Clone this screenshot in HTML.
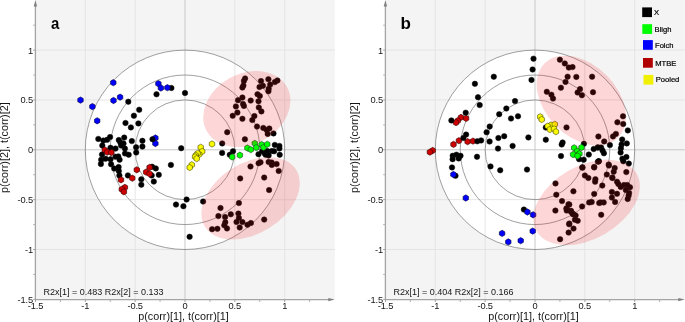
<!DOCTYPE html>
<html><head><meta charset="utf-8"><style>
html,body{margin:0;padding:0;background:#fff;width:685px;height:322px;overflow:hidden}
svg{display:block;will-change:transform}
text{font-family:"Liberation Sans",sans-serif;fill:#151515}
.tk{font-size:9.3px;letter-spacing:-0.15px}
.ti{font-size:10.8px}
.r2{font-size:9px}
.lb{font-size:17px;font-weight:bold;fill:#000}
.lg{font-size:7.6px;fill:#000;stroke:#000;stroke-width:0.2px}
</style></head><body>
<svg width="685" height="322" viewBox="0 0 685 322">
<defs>
<clipPath id="cca"><circle cx="185" cy="149.8" r="99.7"/></clipPath>
<clipPath id="ccb"><circle cx="535" cy="149.8" r="99.7"/></clipPath>
</defs>
<rect width="685" height="322" fill="#fff"/>
<rect x="36.0" y="0" width="298.8" height="299" fill="#f4f4f4"/>
<line x1="85.3" y1="0" x2="85.3" y2="299" stroke="#e4e4e4" stroke-width="1"/>
<line x1="36.0" y1="249.5" x2="334.8" y2="249.5" stroke="#e4e4e4" stroke-width="1"/>
<line x1="135.15" y1="0" x2="135.15" y2="299" stroke="#e4e4e4" stroke-width="1"/>
<line x1="36.0" y1="199.65" x2="334.8" y2="199.65" stroke="#e4e4e4" stroke-width="1"/>
<line x1="234.85" y1="0" x2="234.85" y2="299" stroke="#e4e4e4" stroke-width="1"/>
<line x1="36.0" y1="99.95000000000002" x2="334.8" y2="99.95000000000002" stroke="#e4e4e4" stroke-width="1"/>
<line x1="284.7" y1="0" x2="284.7" y2="299" stroke="#e4e4e4" stroke-width="1"/>
<line x1="36.0" y1="50.10000000000001" x2="334.8" y2="50.10000000000001" stroke="#e4e4e4" stroke-width="1"/>
<circle cx="185.0" cy="149.8" r="99.7" fill="#fff"/>
<line x1="85.3" y1="0" x2="85.3" y2="299" stroke="#e6e6e6" stroke-width="1" clip-path="url(#cca)"/>
<line x1="36.0" y1="249.5" x2="334.8" y2="249.5" stroke="#e6e6e6" stroke-width="1" clip-path="url(#cca)"/>
<line x1="135.15" y1="0" x2="135.15" y2="299" stroke="#e6e6e6" stroke-width="1" clip-path="url(#cca)"/>
<line x1="36.0" y1="199.65" x2="334.8" y2="199.65" stroke="#e6e6e6" stroke-width="1" clip-path="url(#cca)"/>
<line x1="234.85" y1="0" x2="234.85" y2="299" stroke="#e6e6e6" stroke-width="1" clip-path="url(#cca)"/>
<line x1="36.0" y1="99.95000000000002" x2="334.8" y2="99.95000000000002" stroke="#e6e6e6" stroke-width="1" clip-path="url(#cca)"/>
<line x1="284.7" y1="0" x2="284.7" y2="299" stroke="#e6e6e6" stroke-width="1" clip-path="url(#cca)"/>
<line x1="36.0" y1="50.10000000000001" x2="334.8" y2="50.10000000000001" stroke="#e6e6e6" stroke-width="1" clip-path="url(#cca)"/>
<line x1="185.0" y1="0" x2="185.0" y2="299" stroke="#c8c8c8" stroke-width="1"/>
<line x1="36.0" y1="149.8" x2="334.8" y2="149.8" stroke="#c8c8c8" stroke-width="1"/>
<circle cx="185.0" cy="149.8" r="49.85" fill="none" stroke="#777" stroke-width="0.7"/>
<circle cx="185.0" cy="149.8" r="74.775" fill="none" stroke="#777" stroke-width="0.7"/>
<circle cx="185.0" cy="149.8" r="99.7" fill="none" stroke="#777" stroke-width="0.7"/>
<polygon points="80.50,96.95 77.77,98.52 77.77,101.67 80.50,103.25 83.23,101.67 83.23,98.52" fill="#0000ff" stroke="#00003a" stroke-width="0.6" stroke-linejoin="round"/>
<polygon points="92.40,103.45 89.67,105.02 89.67,108.17 92.40,109.75 95.13,108.17 95.13,105.02" fill="#0000ff" stroke="#00003a" stroke-width="0.6" stroke-linejoin="round"/>
<polygon points="113.30,79.55 110.57,81.12 110.57,84.28 113.30,85.85 116.03,84.28 116.03,81.12" fill="#0000ff" stroke="#00003a" stroke-width="0.6" stroke-linejoin="round"/>
<polygon points="113.50,97.35 110.77,98.92 110.77,102.08 113.50,103.65 116.23,102.08 116.23,98.92" fill="#0000ff" stroke="#00003a" stroke-width="0.6" stroke-linejoin="round"/>
<polygon points="120.10,94.05 117.37,95.62 117.37,98.78 120.10,100.35 122.83,98.78 122.83,95.62" fill="#0000ff" stroke="#00003a" stroke-width="0.6" stroke-linejoin="round"/>
<polygon points="97.20,117.65 94.47,119.22 94.47,122.38 97.20,123.95 99.93,122.38 99.93,119.22" fill="#0000ff" stroke="#00003a" stroke-width="0.6" stroke-linejoin="round"/>
<circle cx="171.4" cy="88.0" r="2.75" fill="#000" stroke="#111" stroke-width="0.5"/>
<polygon points="158.40,80.55 155.67,82.12 155.67,85.28 158.40,86.85 161.13,85.28 161.13,82.12" fill="#0000ff" stroke="#00003a" stroke-width="0.6" stroke-linejoin="round"/>
<polygon points="160.90,84.85 158.17,86.42 158.17,89.58 160.90,91.15 163.63,89.58 163.63,86.42" fill="#0000ff" stroke="#00003a" stroke-width="0.6" stroke-linejoin="round"/>
<polygon points="167.40,84.55 164.67,86.12 164.67,89.28 167.40,90.85 170.13,89.28 170.13,86.12" fill="#0000ff" stroke="#00003a" stroke-width="0.6" stroke-linejoin="round"/>
<polygon points="155.40,134.85 152.67,136.43 152.67,139.57 155.40,141.15 158.13,139.57 158.13,136.43" fill="#0000ff" stroke="#00003a" stroke-width="0.6" stroke-linejoin="round"/>
<polygon points="155.40,140.35 152.67,141.93 152.67,145.07 155.40,146.65 158.13,145.07 158.13,141.93" fill="#0000ff" stroke="#00003a" stroke-width="0.6" stroke-linejoin="round"/>
<circle cx="156.5" cy="94.3" r="2.75" fill="#000" stroke="#111" stroke-width="0.5"/>
<circle cx="185.0" cy="93.0" r="2.75" fill="#000" stroke="#111" stroke-width="0.5"/>
<circle cx="128.3" cy="101.7" r="2.75" fill="#000" stroke="#111" stroke-width="0.5"/>
<circle cx="139.2" cy="109.8" r="2.75" fill="#000" stroke="#111" stroke-width="0.5"/>
<circle cx="133.9" cy="115.7" r="2.75" fill="#000" stroke="#111" stroke-width="0.5"/>
<circle cx="125.5" cy="123.0" r="2.75" fill="#000" stroke="#111" stroke-width="0.5"/>
<circle cx="130.9" cy="127.4" r="2.75" fill="#000" stroke="#111" stroke-width="0.5"/>
<circle cx="138.4" cy="123.4" r="2.75" fill="#000" stroke="#111" stroke-width="0.5"/>
<circle cx="152.5" cy="139.2" r="2.75" fill="#000" stroke="#111" stroke-width="0.5"/>
<circle cx="98.3" cy="138.9" r="2.75" fill="#000" stroke="#111" stroke-width="0.5"/>
<circle cx="103.3" cy="140.6" r="2.75" fill="#000" stroke="#111" stroke-width="0.5"/>
<circle cx="107.1" cy="139.8" r="2.75" fill="#000" stroke="#111" stroke-width="0.5"/>
<circle cx="110.1" cy="137.1" r="2.75" fill="#000" stroke="#111" stroke-width="0.5"/>
<circle cx="118.8" cy="140.1" r="2.75" fill="#000" stroke="#111" stroke-width="0.5"/>
<circle cx="124.2" cy="137.6" r="2.75" fill="#000" stroke="#111" stroke-width="0.5"/>
<circle cx="120.4" cy="142.5" r="2.75" fill="#000" stroke="#111" stroke-width="0.5"/>
<circle cx="123.5" cy="143.5" r="2.75" fill="#000" stroke="#111" stroke-width="0.5"/>
<circle cx="102.3" cy="145.6" r="2.75" fill="#000" stroke="#111" stroke-width="0.5"/>
<circle cx="110.5" cy="147.8" r="2.75" fill="#000" stroke="#111" stroke-width="0.5"/>
<circle cx="115.5" cy="148.6" r="2.75" fill="#000" stroke="#111" stroke-width="0.5"/>
<circle cx="124.9" cy="148.6" r="2.75" fill="#000" stroke="#111" stroke-width="0.5"/>
<circle cx="121.1" cy="145.6" r="2.75" fill="#000" stroke="#111" stroke-width="0.5"/>
<circle cx="125.0" cy="153.4" r="2.75" fill="#000" stroke="#111" stroke-width="0.5"/>
<circle cx="131.8" cy="141.1" r="2.75" fill="#000" stroke="#111" stroke-width="0.5"/>
<circle cx="142.4" cy="140.8" r="2.75" fill="#000" stroke="#111" stroke-width="0.5"/>
<circle cx="142.4" cy="146.6" r="2.75" fill="#000" stroke="#111" stroke-width="0.5"/>
<circle cx="136.1" cy="147.3" r="2.75" fill="#000" stroke="#111" stroke-width="0.5"/>
<circle cx="136.2" cy="152.5" r="2.75" fill="#000" stroke="#111" stroke-width="0.5"/>
<circle cx="128.7" cy="154.7" r="2.75" fill="#000" stroke="#111" stroke-width="0.5"/>
<circle cx="102.0" cy="154.6" r="2.75" fill="#000" stroke="#111" stroke-width="0.5"/>
<circle cx="101.2" cy="159.8" r="2.75" fill="#000" stroke="#111" stroke-width="0.5"/>
<circle cx="100.9" cy="164.0" r="2.75" fill="#000" stroke="#111" stroke-width="0.5"/>
<circle cx="105.5" cy="158.7" r="2.75" fill="#000" stroke="#111" stroke-width="0.5"/>
<circle cx="110.5" cy="159.3" r="2.75" fill="#000" stroke="#111" stroke-width="0.5"/>
<circle cx="111.1" cy="164.3" r="2.75" fill="#000" stroke="#111" stroke-width="0.5"/>
<circle cx="115.5" cy="156.8" r="2.75" fill="#000" stroke="#111" stroke-width="0.5"/>
<circle cx="118.3" cy="156.4" r="2.75" fill="#000" stroke="#111" stroke-width="0.5"/>
<circle cx="119.6" cy="159.7" r="2.75" fill="#000" stroke="#111" stroke-width="0.5"/>
<circle cx="114.2" cy="168.6" r="2.75" fill="#000" stroke="#111" stroke-width="0.5"/>
<circle cx="118.6" cy="167.1" r="2.75" fill="#000" stroke="#111" stroke-width="0.5"/>
<circle cx="118.8" cy="171.1" r="2.75" fill="#000" stroke="#111" stroke-width="0.5"/>
<circle cx="119.4" cy="175.5" r="2.75" fill="#000" stroke="#111" stroke-width="0.5"/>
<circle cx="127.9" cy="175.4" r="2.75" fill="#000" stroke="#111" stroke-width="0.5"/>
<circle cx="141.3" cy="179.3" r="2.75" fill="#000" stroke="#111" stroke-width="0.5"/>
<circle cx="141.3" cy="184.7" r="2.75" fill="#000" stroke="#111" stroke-width="0.5"/>
<circle cx="152.1" cy="166.7" r="2.75" fill="#000" stroke="#111" stroke-width="0.5"/>
<circle cx="155.8" cy="168.4" r="2.75" fill="#000" stroke="#111" stroke-width="0.5"/>
<circle cx="151.7" cy="175.4" r="2.75" fill="#000" stroke="#111" stroke-width="0.5"/>
<circle cx="158.8" cy="174.8" r="2.75" fill="#000" stroke="#111" stroke-width="0.5"/>
<circle cx="153.8" cy="181.6" r="2.75" fill="#000" stroke="#111" stroke-width="0.5"/>
<circle cx="181.2" cy="148.2" r="2.75" fill="#000" stroke="#111" stroke-width="0.5"/>
<circle cx="186.6" cy="199.5" r="2.75" fill="#000" stroke="#111" stroke-width="0.5"/>
<circle cx="176.0" cy="204.6" r="2.75" fill="#000" stroke="#111" stroke-width="0.5"/>
<circle cx="183.4" cy="206.2" r="2.75" fill="#000" stroke="#111" stroke-width="0.5"/>
<circle cx="189.6" cy="236.8" r="2.75" fill="#000" stroke="#111" stroke-width="0.5"/>
<polygon points="104.80,146.85 102.07,148.43 102.07,151.57 104.80,153.15 107.53,151.57 107.53,148.43" fill="#cc0000" stroke="#380000" stroke-width="0.6" stroke-linejoin="round"/>
<polygon points="107.20,149.05 104.47,150.62 104.47,153.77 107.20,155.35 109.93,153.77 109.93,150.62" fill="#cc0000" stroke="#380000" stroke-width="0.6" stroke-linejoin="round"/>
<polygon points="111.40,149.35 108.67,150.93 108.67,154.07 111.40,155.65 114.13,154.07 114.13,150.93" fill="#cc0000" stroke="#380000" stroke-width="0.6" stroke-linejoin="round"/>
<polygon points="121.00,176.65 118.27,178.23 118.27,181.38 121.00,182.95 123.73,181.38 123.73,178.23" fill="#cc0000" stroke="#380000" stroke-width="0.6" stroke-linejoin="round"/>
<polygon points="132.30,175.05 129.57,176.62 129.57,179.77 132.30,181.35 135.03,179.77 135.03,176.62" fill="#cc0000" stroke="#380000" stroke-width="0.6" stroke-linejoin="round"/>
<polygon points="136.80,166.65 134.07,168.23 134.07,171.38 136.80,172.95 139.53,171.38 139.53,168.23" fill="#cc0000" stroke="#380000" stroke-width="0.6" stroke-linejoin="round"/>
<polygon points="149.60,164.25 146.87,165.83 146.87,168.97 149.60,170.55 152.33,168.97 152.33,165.83" fill="#cc0000" stroke="#380000" stroke-width="0.6" stroke-linejoin="round"/>
<polygon points="146.10,168.95 143.37,170.53 143.37,173.67 146.10,175.25 148.83,173.67 148.83,170.53" fill="#cc0000" stroke="#380000" stroke-width="0.6" stroke-linejoin="round"/>
<polygon points="149.60,170.65 146.87,172.23 146.87,175.38 149.60,176.95 152.33,175.38 152.33,172.23" fill="#cc0000" stroke="#380000" stroke-width="0.6" stroke-linejoin="round"/>
<polygon points="124.90,184.25 122.17,185.83 122.17,188.97 124.90,190.55 127.63,188.97 127.63,185.83" fill="#cc0000" stroke="#380000" stroke-width="0.6" stroke-linejoin="round"/>
<polygon points="121.80,186.15 119.07,187.73 119.07,190.88 121.80,192.45 124.53,190.88 124.53,187.73" fill="#cc0000" stroke="#380000" stroke-width="0.6" stroke-linejoin="round"/>
<polygon points="123.90,188.65 121.17,190.23 121.17,193.38 123.90,194.95 126.63,193.38 126.63,190.23" fill="#cc0000" stroke="#380000" stroke-width="0.6" stroke-linejoin="round"/>
<polygon points="212.00,140.85 209.27,142.43 209.27,145.57 212.00,147.15 214.73,145.57 214.73,142.43" fill="#f8f800" stroke="#4a4a00" stroke-width="0.6" stroke-linejoin="round"/>
<polygon points="200.70,144.15 197.97,145.73 197.97,148.88 200.70,150.45 203.43,148.88 203.43,145.73" fill="#f8f800" stroke="#4a4a00" stroke-width="0.6" stroke-linejoin="round"/>
<polygon points="202.20,148.35 199.47,149.93 199.47,153.07 202.20,154.65 204.93,153.07 204.93,149.93" fill="#f8f800" stroke="#4a4a00" stroke-width="0.6" stroke-linejoin="round"/>
<polygon points="199.20,151.25 196.47,152.83 196.47,155.97 199.20,157.55 201.93,155.97 201.93,152.83" fill="#f8f800" stroke="#4a4a00" stroke-width="0.6" stroke-linejoin="round"/>
<polygon points="197.60,150.25 194.87,151.83 194.87,154.97 197.60,156.55 200.33,154.97 200.33,151.83" fill="#f8f800" stroke="#4a4a00" stroke-width="0.6" stroke-linejoin="round"/>
<polygon points="195.80,152.25 193.07,153.83 193.07,156.97 195.80,158.55 198.53,156.97 198.53,153.83" fill="#f8f800" stroke="#4a4a00" stroke-width="0.6" stroke-linejoin="round"/>
<polygon points="195.10,153.65 192.37,155.23 192.37,158.38 195.10,159.95 197.83,158.38 197.83,155.23" fill="#f8f800" stroke="#4a4a00" stroke-width="0.6" stroke-linejoin="round"/>
<polygon points="196.70,155.45 193.97,157.03 193.97,160.17 196.70,161.75 199.43,160.17 199.43,157.03" fill="#f8f800" stroke="#4a4a00" stroke-width="0.6" stroke-linejoin="round"/>
<polygon points="191.80,161.65 189.07,163.23 189.07,166.38 191.80,167.95 194.53,166.38 194.53,163.23" fill="#f8f800" stroke="#4a4a00" stroke-width="0.6" stroke-linejoin="round"/>
<polygon points="189.70,164.35 186.97,165.93 186.97,169.07 189.70,170.65 192.43,169.07 192.43,165.93" fill="#f8f800" stroke="#4a4a00" stroke-width="0.6" stroke-linejoin="round"/>
<circle cx="222.1" cy="152.9" r="2.75" fill="#000" stroke="#111" stroke-width="0.5"/>
<circle cx="233.0" cy="151.3" r="2.75" fill="#000" stroke="#111" stroke-width="0.5"/>
<circle cx="229.8" cy="154.8" r="2.75" fill="#000" stroke="#111" stroke-width="0.5"/>
<circle cx="258.5" cy="154.2" r="2.75" fill="#000" stroke="#111" stroke-width="0.5"/>
<circle cx="262.3" cy="151.3" r="2.75" fill="#000" stroke="#111" stroke-width="0.5"/>
<circle cx="264.8" cy="153.6" r="2.75" fill="#000" stroke="#111" stroke-width="0.5"/>
<circle cx="274.8" cy="144.9" r="2.75" fill="#000" stroke="#111" stroke-width="0.5"/>
<circle cx="279.4" cy="145.9" r="2.75" fill="#000" stroke="#111" stroke-width="0.5"/>
<circle cx="279.4" cy="148.4" r="2.75" fill="#000" stroke="#111" stroke-width="0.5"/>
<circle cx="267.3" cy="151.1" r="2.75" fill="#000" stroke="#111" stroke-width="0.5"/>
<circle cx="271.7" cy="151.1" r="2.75" fill="#000" stroke="#111" stroke-width="0.5"/>
<circle cx="274.1" cy="151.3" r="2.75" fill="#000" stroke="#111" stroke-width="0.5"/>
<circle cx="265.7" cy="154.8" r="2.75" fill="#000" stroke="#111" stroke-width="0.5"/>
<circle cx="268.6" cy="155.4" r="2.75" fill="#000" stroke="#111" stroke-width="0.5"/>
<circle cx="279.7" cy="154.8" r="2.75" fill="#000" stroke="#111" stroke-width="0.5"/>
<polygon points="254.80,140.25 252.07,141.83 252.07,144.97 254.80,146.55 257.53,144.97 257.53,141.83" fill="#00ff00" stroke="#1c3c1c" stroke-width="0.6" stroke-linejoin="round"/>
<polygon points="247.40,144.85 244.67,146.43 244.67,149.57 247.40,151.15 250.13,149.57 250.13,146.43" fill="#00ff00" stroke="#1c3c1c" stroke-width="0.6" stroke-linejoin="round"/>
<polygon points="250.80,146.45 248.07,148.03 248.07,151.17 250.80,152.75 253.53,151.17 253.53,148.03" fill="#00ff00" stroke="#1c3c1c" stroke-width="0.6" stroke-linejoin="round"/>
<polygon points="256.30,144.45 253.57,146.03 253.57,149.17 256.30,150.75 259.03,149.17 259.03,146.03" fill="#00ff00" stroke="#1c3c1c" stroke-width="0.6" stroke-linejoin="round"/>
<polygon points="261.60,141.45 258.87,143.03 258.87,146.17 261.60,147.75 264.33,146.17 264.33,143.03" fill="#00ff00" stroke="#1c3c1c" stroke-width="0.6" stroke-linejoin="round"/>
<polygon points="263.50,144.25 260.77,145.83 260.77,148.97 263.50,150.55 266.23,148.97 266.23,145.83" fill="#00ff00" stroke="#1c3c1c" stroke-width="0.6" stroke-linejoin="round"/>
<polygon points="267.30,141.15 264.57,142.73 264.57,145.88 267.30,147.45 270.03,145.88 270.03,142.73" fill="#00ff00" stroke="#1c3c1c" stroke-width="0.6" stroke-linejoin="round"/>
<polygon points="232.20,153.85 229.47,155.43 229.47,158.57 232.20,160.15 234.93,158.57 234.93,155.43" fill="#00ff00" stroke="#1c3c1c" stroke-width="0.6" stroke-linejoin="round"/>
<polygon points="239.90,152.05 237.17,153.62 237.17,156.77 239.90,158.35 242.63,156.77 242.63,153.62" fill="#00ff00" stroke="#1c3c1c" stroke-width="0.6" stroke-linejoin="round"/>
<circle cx="245.1" cy="78.4" r="2.75" fill="#000" stroke="#111" stroke-width="0.5"/>
<circle cx="243.9" cy="80.9" r="2.75" fill="#000" stroke="#111" stroke-width="0.5"/>
<circle cx="243.4" cy="85.5" r="2.75" fill="#000" stroke="#111" stroke-width="0.5"/>
<circle cx="242.4" cy="87.6" r="2.75" fill="#000" stroke="#111" stroke-width="0.5"/>
<circle cx="261.0" cy="81.1" r="2.75" fill="#000" stroke="#111" stroke-width="0.5"/>
<circle cx="262.9" cy="85.8" r="2.75" fill="#000" stroke="#111" stroke-width="0.5"/>
<circle cx="259.5" cy="87.1" r="2.75" fill="#000" stroke="#111" stroke-width="0.5"/>
<circle cx="257.5" cy="94.2" r="2.75" fill="#000" stroke="#111" stroke-width="0.5"/>
<circle cx="259.8" cy="96.0" r="2.75" fill="#000" stroke="#111" stroke-width="0.5"/>
<circle cx="268.4" cy="79.2" r="2.75" fill="#000" stroke="#111" stroke-width="0.5"/>
<circle cx="270.2" cy="84.6" r="2.75" fill="#000" stroke="#111" stroke-width="0.5"/>
<circle cx="268.7" cy="88.8" r="2.75" fill="#000" stroke="#111" stroke-width="0.5"/>
<circle cx="268.4" cy="91.3" r="2.75" fill="#000" stroke="#111" stroke-width="0.5"/>
<circle cx="277.4" cy="80.5" r="2.75" fill="#000" stroke="#111" stroke-width="0.5"/>
<circle cx="274.9" cy="82.1" r="2.75" fill="#000" stroke="#111" stroke-width="0.5"/>
<circle cx="242.4" cy="97.5" r="2.75" fill="#000" stroke="#111" stroke-width="0.5"/>
<circle cx="238.0" cy="100.2" r="2.75" fill="#000" stroke="#111" stroke-width="0.5"/>
<circle cx="243.0" cy="103.9" r="2.75" fill="#000" stroke="#111" stroke-width="0.5"/>
<circle cx="243.9" cy="105.9" r="2.75" fill="#000" stroke="#111" stroke-width="0.5"/>
<circle cx="235.9" cy="106.4" r="2.75" fill="#000" stroke="#111" stroke-width="0.5"/>
<circle cx="237.4" cy="112.6" r="2.75" fill="#000" stroke="#111" stroke-width="0.5"/>
<circle cx="232.7" cy="115.8" r="2.75" fill="#000" stroke="#111" stroke-width="0.5"/>
<circle cx="242.4" cy="118.8" r="2.75" fill="#000" stroke="#111" stroke-width="0.5"/>
<circle cx="250.7" cy="100.6" r="2.75" fill="#000" stroke="#111" stroke-width="0.5"/>
<circle cx="258.5" cy="101.2" r="2.75" fill="#000" stroke="#111" stroke-width="0.5"/>
<circle cx="258.8" cy="107.4" r="2.75" fill="#000" stroke="#111" stroke-width="0.5"/>
<circle cx="261.4" cy="111.4" r="2.75" fill="#000" stroke="#111" stroke-width="0.5"/>
<circle cx="254.4" cy="116.1" r="2.75" fill="#000" stroke="#111" stroke-width="0.5"/>
<circle cx="252.3" cy="120.1" r="2.75" fill="#000" stroke="#111" stroke-width="0.5"/>
<circle cx="257.0" cy="126.6" r="2.75" fill="#000" stroke="#111" stroke-width="0.5"/>
<circle cx="263.3" cy="127.9" r="2.75" fill="#000" stroke="#111" stroke-width="0.5"/>
<circle cx="269.3" cy="128.5" r="2.75" fill="#000" stroke="#111" stroke-width="0.5"/>
<circle cx="266.7" cy="130.0" r="2.75" fill="#000" stroke="#111" stroke-width="0.5"/>
<circle cx="267.7" cy="133.9" r="2.75" fill="#000" stroke="#111" stroke-width="0.5"/>
<circle cx="273.5" cy="133.4" r="2.75" fill="#000" stroke="#111" stroke-width="0.5"/>
<circle cx="227.2" cy="132.2" r="2.75" fill="#000" stroke="#111" stroke-width="0.5"/>
<circle cx="244.9" cy="139.3" r="2.75" fill="#000" stroke="#111" stroke-width="0.5"/>
<circle cx="222.2" cy="143.4" r="2.75" fill="#000" stroke="#111" stroke-width="0.5"/>
<circle cx="260.5" cy="162.3" r="2.75" fill="#000" stroke="#111" stroke-width="0.5"/>
<circle cx="268.6" cy="162.0" r="2.75" fill="#000" stroke="#111" stroke-width="0.5"/>
<circle cx="271.7" cy="162.5" r="2.75" fill="#000" stroke="#111" stroke-width="0.5"/>
<circle cx="276.6" cy="164.1" r="2.75" fill="#000" stroke="#111" stroke-width="0.5"/>
<circle cx="258.6" cy="163.2" r="2.75" fill="#000" stroke="#111" stroke-width="0.5"/>
<circle cx="250.5" cy="166.5" r="2.75" fill="#000" stroke="#111" stroke-width="0.5"/>
<circle cx="271.8" cy="164.9" r="2.75" fill="#000" stroke="#111" stroke-width="0.5"/>
<circle cx="278.7" cy="170.9" r="2.75" fill="#000" stroke="#111" stroke-width="0.5"/>
<circle cx="240.2" cy="178.4" r="2.75" fill="#000" stroke="#111" stroke-width="0.5"/>
<circle cx="264.2" cy="177.6" r="2.75" fill="#000" stroke="#111" stroke-width="0.5"/>
<circle cx="269.1" cy="190.1" r="2.75" fill="#000" stroke="#111" stroke-width="0.5"/>
<circle cx="203.1" cy="201.5" r="2.75" fill="#000" stroke="#111" stroke-width="0.5"/>
<circle cx="220.5" cy="208.0" r="2.75" fill="#000" stroke="#111" stroke-width="0.5"/>
<circle cx="218.4" cy="216.1" r="2.75" fill="#000" stroke="#111" stroke-width="0.5"/>
<circle cx="225.1" cy="217.1" r="2.75" fill="#000" stroke="#111" stroke-width="0.5"/>
<circle cx="230.8" cy="214.3" r="2.75" fill="#000" stroke="#111" stroke-width="0.5"/>
<circle cx="225.3" cy="222.2" r="2.75" fill="#000" stroke="#111" stroke-width="0.5"/>
<circle cx="224.3" cy="225.3" r="2.75" fill="#000" stroke="#111" stroke-width="0.5"/>
<circle cx="227.0" cy="228.4" r="2.75" fill="#000" stroke="#111" stroke-width="0.5"/>
<circle cx="212.1" cy="229.2" r="2.75" fill="#000" stroke="#111" stroke-width="0.5"/>
<circle cx="217.4" cy="228.8" r="2.75" fill="#000" stroke="#111" stroke-width="0.5"/>
<circle cx="236.5" cy="222.0" r="2.75" fill="#000" stroke="#111" stroke-width="0.5"/>
<circle cx="238.9" cy="203.1" r="2.75" fill="#000" stroke="#111" stroke-width="0.5"/>
<circle cx="238.4" cy="213.6" r="2.75" fill="#000" stroke="#111" stroke-width="0.5"/>
<circle cx="238.9" cy="218.0" r="2.75" fill="#000" stroke="#111" stroke-width="0.5"/>
<circle cx="242.4" cy="222.1" r="2.75" fill="#000" stroke="#111" stroke-width="0.5"/>
<circle cx="239.7" cy="227.5" r="2.75" fill="#000" stroke="#111" stroke-width="0.5"/>
<circle cx="247.4" cy="224.8" r="2.75" fill="#000" stroke="#111" stroke-width="0.5"/>
<circle cx="250.9" cy="223.0" r="2.75" fill="#000" stroke="#111" stroke-width="0.5"/>
<circle cx="264.2" cy="219.6" r="2.75" fill="#000" stroke="#111" stroke-width="0.5"/>
<circle cx="170.9" cy="164.9" r="2.75" fill="#000" stroke="#111" stroke-width="0.5"/>
<ellipse cx="246.82" cy="109.03" rx="45.8" ry="35.4" transform="rotate(-28.82 246.82 109.03)" fill="rgb(245,25,35)" fill-opacity="0.18"/>
<ellipse cx="250.55" cy="198.33" rx="53.7" ry="35.1" transform="rotate(-32.06 250.55 198.33)" fill="rgb(245,25,35)" fill-opacity="0.18"/>
<line x1="35.4" y1="5" x2="35.4" y2="300" stroke="#a4a4a4" stroke-width="1.3"/>
<line x1="35.5" y1="299.6" x2="329.8" y2="299.6" stroke="#a4a4a4" stroke-width="1.3"/>
<path d="M33.7,6.5 L35.4,0 L37.1,6.5 Z" fill="#808080"/>
<path d="M328.3,297.9 L334.8,299.6 L328.3,301.3 Z" fill="#808080"/>
<line x1="35.45" y1="300" x2="35.45" y2="302" stroke="#a0a0a0" stroke-width="1"/>
<line x1="60.38" y1="300" x2="60.38" y2="302" stroke="#b0b0b0" stroke-width="1"/>
<line x1="85.30" y1="300" x2="85.30" y2="302" stroke="#a0a0a0" stroke-width="1"/>
<line x1="110.22" y1="300" x2="110.22" y2="302" stroke="#b0b0b0" stroke-width="1"/>
<line x1="135.15" y1="300" x2="135.15" y2="302" stroke="#a0a0a0" stroke-width="1"/>
<line x1="160.07" y1="300" x2="160.07" y2="302" stroke="#b0b0b0" stroke-width="1"/>
<line x1="185.00" y1="300" x2="185.00" y2="302" stroke="#a0a0a0" stroke-width="1"/>
<line x1="209.93" y1="300" x2="209.93" y2="302" stroke="#b0b0b0" stroke-width="1"/>
<line x1="234.85" y1="300" x2="234.85" y2="302" stroke="#a0a0a0" stroke-width="1"/>
<line x1="259.77" y1="300" x2="259.77" y2="302" stroke="#b0b0b0" stroke-width="1"/>
<line x1="284.70" y1="300" x2="284.70" y2="302" stroke="#a0a0a0" stroke-width="1"/>
<line x1="309.62" y1="300" x2="309.62" y2="302" stroke="#b0b0b0" stroke-width="1"/>
<line x1="33.2" y1="299.35" x2="35.5" y2="299.35" stroke="#a0a0a0" stroke-width="1"/>
<line x1="33.2" y1="274.43" x2="35.5" y2="274.43" stroke="#b0b0b0" stroke-width="1"/>
<line x1="33.2" y1="249.50" x2="35.5" y2="249.50" stroke="#a0a0a0" stroke-width="1"/>
<line x1="33.2" y1="224.58" x2="35.5" y2="224.58" stroke="#b0b0b0" stroke-width="1"/>
<line x1="33.2" y1="199.65" x2="35.5" y2="199.65" stroke="#a0a0a0" stroke-width="1"/>
<line x1="33.2" y1="174.73" x2="35.5" y2="174.73" stroke="#b0b0b0" stroke-width="1"/>
<line x1="33.2" y1="149.80" x2="35.5" y2="149.80" stroke="#a0a0a0" stroke-width="1"/>
<line x1="33.2" y1="124.88" x2="35.5" y2="124.88" stroke="#b0b0b0" stroke-width="1"/>
<line x1="33.2" y1="99.95" x2="35.5" y2="99.95" stroke="#a0a0a0" stroke-width="1"/>
<line x1="33.2" y1="75.03" x2="35.5" y2="75.03" stroke="#b0b0b0" stroke-width="1"/>
<line x1="33.2" y1="50.10" x2="35.5" y2="50.10" stroke="#a0a0a0" stroke-width="1"/>
<line x1="33.2" y1="25.18" x2="35.5" y2="25.18" stroke="#b0b0b0" stroke-width="1"/>
<text x="33.0" y="53.50" text-anchor="end" class="tk">1</text>
<text x="33.0" y="103.35" text-anchor="end" class="tk">0.5</text>
<text x="33.0" y="153.20" text-anchor="end" class="tk">0</text>
<text x="33.0" y="203.05" text-anchor="end" class="tk">-0.5</text>
<text x="33.0" y="252.90" text-anchor="end" class="tk">-1</text>
<text x="33.0" y="302.75" text-anchor="end" class="tk">-1.5</text>
<text x="35.45" y="308.8" text-anchor="middle" class="tk">-1.5</text>
<text x="85.30" y="308.8" text-anchor="middle" class="tk">-1</text>
<text x="135.15" y="308.8" text-anchor="middle" class="tk">-0.5</text>
<text x="185.00" y="308.8" text-anchor="middle" class="tk">0</text>
<text x="234.85" y="308.8" text-anchor="middle" class="tk">0.5</text>
<text x="284.70" y="308.8" text-anchor="middle" class="tk">1</text>
<text x="183.5" y="319.5" text-anchor="middle" class="ti">p(corr)[1], t(corr)[1]</text>
<text transform="translate(8.3,147.6) rotate(-90)" text-anchor="middle" class="ti">p(corr)[2], t(corr)[2]</text>
<text x="43.5" y="294.6" class="r2">R2x[1] = 0.483 R2x[2] = 0.133</text>
<text transform="translate(50.9,28.7) scale(0.88,1)" class="lb">a</text>
<rect x="386.0" y="0" width="298.79999999999995" height="299" fill="#f4f4f4"/>
<line x1="435.3" y1="0" x2="435.3" y2="299" stroke="#e4e4e4" stroke-width="1"/>
<line x1="386.0" y1="249.5" x2="684.8" y2="249.5" stroke="#e4e4e4" stroke-width="1"/>
<line x1="485.15" y1="0" x2="485.15" y2="299" stroke="#e4e4e4" stroke-width="1"/>
<line x1="386.0" y1="199.65" x2="684.8" y2="199.65" stroke="#e4e4e4" stroke-width="1"/>
<line x1="584.85" y1="0" x2="584.85" y2="299" stroke="#e4e4e4" stroke-width="1"/>
<line x1="386.0" y1="99.95000000000002" x2="684.8" y2="99.95000000000002" stroke="#e4e4e4" stroke-width="1"/>
<line x1="634.7" y1="0" x2="634.7" y2="299" stroke="#e4e4e4" stroke-width="1"/>
<line x1="386.0" y1="50.10000000000001" x2="684.8" y2="50.10000000000001" stroke="#e4e4e4" stroke-width="1"/>
<circle cx="535.0" cy="149.8" r="99.7" fill="#fff"/>
<line x1="435.3" y1="0" x2="435.3" y2="299" stroke="#e6e6e6" stroke-width="1" clip-path="url(#ccb)"/>
<line x1="386.0" y1="249.5" x2="684.8" y2="249.5" stroke="#e6e6e6" stroke-width="1" clip-path="url(#ccb)"/>
<line x1="485.15" y1="0" x2="485.15" y2="299" stroke="#e6e6e6" stroke-width="1" clip-path="url(#ccb)"/>
<line x1="386.0" y1="199.65" x2="684.8" y2="199.65" stroke="#e6e6e6" stroke-width="1" clip-path="url(#ccb)"/>
<line x1="584.85" y1="0" x2="584.85" y2="299" stroke="#e6e6e6" stroke-width="1" clip-path="url(#ccb)"/>
<line x1="386.0" y1="99.95000000000002" x2="684.8" y2="99.95000000000002" stroke="#e6e6e6" stroke-width="1" clip-path="url(#ccb)"/>
<line x1="634.7" y1="0" x2="634.7" y2="299" stroke="#e6e6e6" stroke-width="1" clip-path="url(#ccb)"/>
<line x1="386.0" y1="50.10000000000001" x2="684.8" y2="50.10000000000001" stroke="#e6e6e6" stroke-width="1" clip-path="url(#ccb)"/>
<line x1="535.0" y1="0" x2="535.0" y2="299" stroke="#c8c8c8" stroke-width="1"/>
<line x1="386.0" y1="149.8" x2="684.8" y2="149.8" stroke="#c8c8c8" stroke-width="1"/>
<circle cx="535.0" cy="149.8" r="49.85" fill="none" stroke="#777" stroke-width="0.7"/>
<circle cx="535.0" cy="149.8" r="74.775" fill="none" stroke="#777" stroke-width="0.7"/>
<circle cx="535.0" cy="149.8" r="99.7" fill="none" stroke="#777" stroke-width="0.7"/>
<polygon points="432.70,147.35 429.97,148.93 429.97,152.07 432.70,153.65 435.43,152.07 435.43,148.93" fill="#cc0000" stroke="#380000" stroke-width="0.6" stroke-linejoin="round"/>
<polygon points="429.90,148.95 427.17,150.53 427.17,153.67 429.90,155.25 432.63,153.67 432.63,150.53" fill="#cc0000" stroke="#380000" stroke-width="0.6" stroke-linejoin="round"/>
<polygon points="453.50,141.25 450.77,142.83 450.77,145.97 453.50,147.55 456.23,145.97 456.23,142.83" fill="#cc0000" stroke="#380000" stroke-width="0.6" stroke-linejoin="round"/>
<polygon points="458.90,137.55 456.17,139.12 456.17,142.27 458.90,143.85 461.63,142.27 461.63,139.12" fill="#cc0000" stroke="#380000" stroke-width="0.6" stroke-linejoin="round"/>
<polygon points="461.00,114.25 458.27,115.83 458.27,118.98 461.00,120.55 463.73,118.98 463.73,115.83" fill="#cc0000" stroke="#380000" stroke-width="0.6" stroke-linejoin="round"/>
<polygon points="466.10,115.25 463.37,116.83 463.37,119.98 466.10,121.55 468.83,119.98 468.83,116.83" fill="#cc0000" stroke="#380000" stroke-width="0.6" stroke-linejoin="round"/>
<polygon points="457.80,117.55 455.07,119.12 455.07,122.28 457.80,123.85 460.53,122.28 460.53,119.12" fill="#cc0000" stroke="#380000" stroke-width="0.6" stroke-linejoin="round"/>
<polygon points="456.00,119.45 453.27,121.02 453.27,124.17 456.00,125.75 458.73,124.17 458.73,121.02" fill="#cc0000" stroke="#380000" stroke-width="0.6" stroke-linejoin="round"/>
<polygon points="467.60,138.55 464.87,140.12 464.87,143.27 467.60,144.85 470.33,143.27 470.33,140.12" fill="#cc0000" stroke="#380000" stroke-width="0.6" stroke-linejoin="round"/>
<polygon points="473.00,137.95 470.27,139.53 470.27,142.67 473.00,144.25 475.73,142.67 475.73,139.53" fill="#cc0000" stroke="#380000" stroke-width="0.6" stroke-linejoin="round"/>
<circle cx="452.7" cy="155.8" r="2.75" fill="#000" stroke="#111" stroke-width="0.5"/>
<circle cx="452.6" cy="159.2" r="2.75" fill="#000" stroke="#111" stroke-width="0.5"/>
<circle cx="456.4" cy="154.7" r="2.75" fill="#000" stroke="#111" stroke-width="0.5"/>
<circle cx="460.5" cy="155.8" r="2.75" fill="#000" stroke="#111" stroke-width="0.5"/>
<circle cx="458.7" cy="158.4" r="2.75" fill="#000" stroke="#111" stroke-width="0.5"/>
<circle cx="452.0" cy="167.4" r="2.75" fill="#000" stroke="#111" stroke-width="0.5"/>
<circle cx="477.0" cy="156.8" r="2.75" fill="#000" stroke="#111" stroke-width="0.5"/>
<circle cx="455.5" cy="175.8" r="2.75" fill="#000" stroke="#111" stroke-width="0.5"/>
<circle cx="451.4" cy="120.4" r="2.75" fill="#000" stroke="#111" stroke-width="0.5"/>
<circle cx="465.7" cy="112.7" r="2.75" fill="#000" stroke="#111" stroke-width="0.5"/>
<circle cx="466.1" cy="134.6" r="2.75" fill="#000" stroke="#111" stroke-width="0.5"/>
<circle cx="463.4" cy="137.9" r="2.75" fill="#000" stroke="#111" stroke-width="0.5"/>
<circle cx="477.3" cy="141.3" r="2.75" fill="#000" stroke="#111" stroke-width="0.5"/>
<circle cx="481.1" cy="140.4" r="2.75" fill="#000" stroke="#111" stroke-width="0.5"/>
<circle cx="486.6" cy="132.3" r="2.75" fill="#000" stroke="#111" stroke-width="0.5"/>
<circle cx="489.7" cy="126.6" r="2.75" fill="#000" stroke="#111" stroke-width="0.5"/>
<circle cx="489.6" cy="141.5" r="2.75" fill="#000" stroke="#111" stroke-width="0.5"/>
<circle cx="474.9" cy="83.8" r="2.75" fill="#000" stroke="#111" stroke-width="0.5"/>
<circle cx="493.8" cy="76.7" r="2.75" fill="#000" stroke="#111" stroke-width="0.5"/>
<circle cx="478.0" cy="97.2" r="2.75" fill="#000" stroke="#111" stroke-width="0.5"/>
<circle cx="479.7" cy="105.1" r="2.75" fill="#000" stroke="#111" stroke-width="0.5"/>
<circle cx="499.2" cy="114.2" r="2.75" fill="#000" stroke="#111" stroke-width="0.5"/>
<circle cx="506.3" cy="108.5" r="2.75" fill="#000" stroke="#111" stroke-width="0.5"/>
<circle cx="515.0" cy="101.1" r="2.75" fill="#000" stroke="#111" stroke-width="0.5"/>
<circle cx="511.0" cy="118.5" r="2.75" fill="#000" stroke="#111" stroke-width="0.5"/>
<circle cx="518.0" cy="116.3" r="2.75" fill="#000" stroke="#111" stroke-width="0.5"/>
<circle cx="533.5" cy="58.7" r="2.75" fill="#000" stroke="#111" stroke-width="0.5"/>
<circle cx="532.6" cy="69.5" r="2.75" fill="#000" stroke="#111" stroke-width="0.5"/>
<circle cx="531.5" cy="79.9" r="2.75" fill="#000" stroke="#111" stroke-width="0.5"/>
<circle cx="498.4" cy="138.0" r="2.75" fill="#000" stroke="#111" stroke-width="0.5"/>
<circle cx="504.2" cy="136.2" r="2.75" fill="#000" stroke="#111" stroke-width="0.5"/>
<circle cx="498.0" cy="148.6" r="2.75" fill="#000" stroke="#111" stroke-width="0.5"/>
<circle cx="512.6" cy="145.9" r="2.75" fill="#000" stroke="#111" stroke-width="0.5"/>
<circle cx="490.5" cy="166.4" r="2.75" fill="#000" stroke="#111" stroke-width="0.5"/>
<circle cx="500.2" cy="170.3" r="2.75" fill="#000" stroke="#111" stroke-width="0.5"/>
<circle cx="527.0" cy="169.6" r="2.75" fill="#000" stroke="#111" stroke-width="0.5"/>
<circle cx="528.4" cy="137.4" r="2.75" fill="#000" stroke="#111" stroke-width="0.5"/>
<circle cx="545.8" cy="139.7" r="2.75" fill="#000" stroke="#111" stroke-width="0.5"/>
<circle cx="545.8" cy="127.5" r="2.75" fill="#000" stroke="#111" stroke-width="0.5"/>
<circle cx="523.9" cy="209.6" r="2.75" fill="#000" stroke="#111" stroke-width="0.5"/>
<circle cx="562.6" cy="142.5" r="2.75" fill="#000" stroke="#111" stroke-width="0.5"/>
<circle cx="561.7" cy="144.5" r="2.75" fill="#000" stroke="#111" stroke-width="0.5"/>
<circle cx="561.0" cy="156.1" r="2.75" fill="#000" stroke="#111" stroke-width="0.5"/>
<circle cx="583.9" cy="143.8" r="2.75" fill="#000" stroke="#111" stroke-width="0.5"/>
<circle cx="583.7" cy="159.7" r="2.75" fill="#000" stroke="#111" stroke-width="0.5"/>
<circle cx="579.1" cy="159.2" r="2.75" fill="#000" stroke="#111" stroke-width="0.5"/>
<circle cx="588.8" cy="154.6" r="2.75" fill="#000" stroke="#111" stroke-width="0.5"/>
<circle cx="593.7" cy="149.0" r="2.75" fill="#000" stroke="#111" stroke-width="0.5"/>
<circle cx="597.8" cy="147.4" r="2.75" fill="#000" stroke="#111" stroke-width="0.5"/>
<circle cx="601.1" cy="147.5" r="2.75" fill="#000" stroke="#111" stroke-width="0.5"/>
<circle cx="602.5" cy="150.5" r="2.75" fill="#000" stroke="#111" stroke-width="0.5"/>
<circle cx="603.9" cy="153.3" r="2.75" fill="#000" stroke="#111" stroke-width="0.5"/>
<circle cx="609.9" cy="145.1" r="2.75" fill="#000" stroke="#111" stroke-width="0.5"/>
<circle cx="627.8" cy="130.4" r="2.75" fill="#000" stroke="#111" stroke-width="0.5"/>
<circle cx="622.2" cy="139.5" r="2.75" fill="#000" stroke="#111" stroke-width="0.5"/>
<circle cx="626.8" cy="143.4" r="2.75" fill="#000" stroke="#111" stroke-width="0.5"/>
<circle cx="621.6" cy="144.4" r="2.75" fill="#000" stroke="#111" stroke-width="0.5"/>
<circle cx="620.9" cy="148.2" r="2.75" fill="#000" stroke="#111" stroke-width="0.5"/>
<circle cx="620.6" cy="152.5" r="2.75" fill="#000" stroke="#111" stroke-width="0.5"/>
<circle cx="622.4" cy="158.7" r="2.75" fill="#000" stroke="#111" stroke-width="0.5"/>
<circle cx="626.4" cy="157.0" r="2.75" fill="#000" stroke="#111" stroke-width="0.5"/>
<circle cx="623.3" cy="161.3" r="2.75" fill="#000" stroke="#111" stroke-width="0.5"/>
<circle cx="628.8" cy="163.6" r="2.75" fill="#000" stroke="#111" stroke-width="0.5"/>
<polygon points="453.40,171.35 450.67,172.93 450.67,176.07 453.40,177.65 456.13,176.07 456.13,172.93" fill="#0000ff" stroke="#00003a" stroke-width="0.6" stroke-linejoin="round"/>
<polygon points="465.80,194.85 463.07,196.43 463.07,199.57 465.80,201.15 468.53,199.57 468.53,196.43" fill="#0000ff" stroke="#00003a" stroke-width="0.6" stroke-linejoin="round"/>
<polygon points="527.40,208.85 524.67,210.43 524.67,213.57 527.40,215.15 530.13,213.57 530.13,210.43" fill="#0000ff" stroke="#00003a" stroke-width="0.6" stroke-linejoin="round"/>
<polygon points="533.10,211.65 530.37,213.23 530.37,216.38 533.10,217.95 535.83,216.38 535.83,213.23" fill="#0000ff" stroke="#00003a" stroke-width="0.6" stroke-linejoin="round"/>
<polygon points="532.70,227.95 529.97,229.53 529.97,232.67 532.70,234.25 535.43,232.67 535.43,229.53" fill="#0000ff" stroke="#00003a" stroke-width="0.6" stroke-linejoin="round"/>
<polygon points="502.10,230.25 499.37,231.83 499.37,234.97 502.10,236.55 504.83,234.97 504.83,231.83" fill="#0000ff" stroke="#00003a" stroke-width="0.6" stroke-linejoin="round"/>
<polygon points="508.30,238.75 505.57,240.33 505.57,243.47 508.30,245.05 511.03,243.47 511.03,240.33" fill="#0000ff" stroke="#00003a" stroke-width="0.6" stroke-linejoin="round"/>
<polygon points="520.70,237.55 517.97,239.12 517.97,242.27 520.70,243.85 523.43,242.27 523.43,239.12" fill="#0000ff" stroke="#00003a" stroke-width="0.6" stroke-linejoin="round"/>
<polygon points="540.20,113.65 537.47,115.22 537.47,118.38 540.20,119.95 542.93,118.38 542.93,115.22" fill="#f8f800" stroke="#4a4a00" stroke-width="0.6" stroke-linejoin="round"/>
<polygon points="541.70,116.35 538.97,117.92 538.97,121.08 541.70,122.65 544.43,121.08 544.43,117.92" fill="#f8f800" stroke="#4a4a00" stroke-width="0.6" stroke-linejoin="round"/>
<polygon points="551.00,121.85 548.27,123.42 548.27,126.58 551.00,128.15 553.73,126.58 553.73,123.42" fill="#f8f800" stroke="#4a4a00" stroke-width="0.6" stroke-linejoin="round"/>
<polygon points="554.80,121.15 552.07,122.72 552.07,125.88 554.80,127.45 557.53,125.88 557.53,122.72" fill="#f8f800" stroke="#4a4a00" stroke-width="0.6" stroke-linejoin="round"/>
<polygon points="547.70,123.05 544.97,124.62 544.97,127.78 547.70,129.35 550.43,127.78 550.43,124.62" fill="#f8f800" stroke="#4a4a00" stroke-width="0.6" stroke-linejoin="round"/>
<polygon points="549.90,126.35 547.17,127.92 547.17,131.07 549.90,132.65 552.63,131.07 552.63,127.92" fill="#f8f800" stroke="#4a4a00" stroke-width="0.6" stroke-linejoin="round"/>
<polygon points="554.00,125.65 551.27,127.23 551.27,130.38 554.00,131.95 556.73,130.38 556.73,127.23" fill="#f8f800" stroke="#4a4a00" stroke-width="0.6" stroke-linejoin="round"/>
<polygon points="555.90,128.55 553.17,130.12 553.17,133.27 555.90,134.85 558.63,133.27 558.63,130.12" fill="#f8f800" stroke="#4a4a00" stroke-width="0.6" stroke-linejoin="round"/>
<polygon points="574.20,144.65 571.47,146.23 571.47,149.38 574.20,150.95 576.93,149.38 576.93,146.23" fill="#00ff00" stroke="#1c3c1c" stroke-width="0.6" stroke-linejoin="round"/>
<polygon points="581.50,144.35 578.77,145.93 578.77,149.07 581.50,150.65 584.23,149.07 584.23,145.93" fill="#00ff00" stroke="#1c3c1c" stroke-width="0.6" stroke-linejoin="round"/>
<polygon points="577.20,148.05 574.47,149.62 574.47,152.77 577.20,154.35 579.93,152.77 579.93,149.62" fill="#00ff00" stroke="#1c3c1c" stroke-width="0.6" stroke-linejoin="round"/>
<polygon points="579.40,150.65 576.67,152.23 576.67,155.38 579.40,156.95 582.13,155.38 582.13,152.23" fill="#00ff00" stroke="#1c3c1c" stroke-width="0.6" stroke-linejoin="round"/>
<polygon points="573.10,151.35 570.37,152.93 570.37,156.07 573.10,157.65 575.83,156.07 575.83,152.93" fill="#00ff00" stroke="#1c3c1c" stroke-width="0.6" stroke-linejoin="round"/>
<polygon points="577.50,152.85 574.77,154.43 574.77,157.57 577.50,159.15 580.23,157.57 580.23,154.43" fill="#00ff00" stroke="#1c3c1c" stroke-width="0.6" stroke-linejoin="round"/>
<circle cx="559.9" cy="59.7" r="2.75" fill="#000" stroke="#111" stroke-width="0.5"/>
<circle cx="564.8" cy="63.4" r="2.75" fill="#000" stroke="#111" stroke-width="0.5"/>
<circle cx="568.8" cy="67.6" r="2.75" fill="#000" stroke="#111" stroke-width="0.5"/>
<circle cx="572.5" cy="67.1" r="2.75" fill="#000" stroke="#111" stroke-width="0.5"/>
<circle cx="567.6" cy="76.7" r="2.75" fill="#000" stroke="#111" stroke-width="0.5"/>
<circle cx="576.3" cy="76.9" r="2.75" fill="#000" stroke="#111" stroke-width="0.5"/>
<circle cx="565.5" cy="81.9" r="2.75" fill="#000" stroke="#111" stroke-width="0.5"/>
<circle cx="592.1" cy="76.7" r="2.75" fill="#000" stroke="#111" stroke-width="0.5"/>
<circle cx="580.0" cy="89.1" r="2.75" fill="#000" stroke="#111" stroke-width="0.5"/>
<circle cx="577.6" cy="92.5" r="2.75" fill="#000" stroke="#111" stroke-width="0.5"/>
<circle cx="581.9" cy="95.3" r="2.75" fill="#000" stroke="#111" stroke-width="0.5"/>
<circle cx="593.0" cy="92.2" r="2.75" fill="#000" stroke="#111" stroke-width="0.5"/>
<circle cx="560.9" cy="87.7" r="2.75" fill="#000" stroke="#111" stroke-width="0.5"/>
<circle cx="546.8" cy="91.8" r="2.75" fill="#000" stroke="#111" stroke-width="0.5"/>
<circle cx="551.4" cy="94.7" r="2.75" fill="#000" stroke="#111" stroke-width="0.5"/>
<circle cx="553.0" cy="98.6" r="2.75" fill="#000" stroke="#111" stroke-width="0.5"/>
<circle cx="566.5" cy="127.4" r="2.75" fill="#000" stroke="#111" stroke-width="0.5"/>
<circle cx="598.4" cy="136.5" r="2.75" fill="#000" stroke="#111" stroke-width="0.5"/>
<circle cx="604.2" cy="141.4" r="2.75" fill="#000" stroke="#111" stroke-width="0.5"/>
<circle cx="613.0" cy="136.4" r="2.75" fill="#000" stroke="#111" stroke-width="0.5"/>
<circle cx="615.9" cy="133.9" r="2.75" fill="#000" stroke="#111" stroke-width="0.5"/>
<circle cx="617.4" cy="122.3" r="2.75" fill="#000" stroke="#111" stroke-width="0.5"/>
<circle cx="623.0" cy="116.3" r="2.75" fill="#000" stroke="#111" stroke-width="0.5"/>
<circle cx="623.2" cy="124.0" r="2.75" fill="#000" stroke="#111" stroke-width="0.5"/>
<circle cx="597.9" cy="147.4" r="2.75" fill="#000" stroke="#111" stroke-width="0.5"/>
<circle cx="598.8" cy="161.2" r="2.75" fill="#000" stroke="#111" stroke-width="0.5"/>
<circle cx="582.4" cy="167.7" r="2.75" fill="#000" stroke="#111" stroke-width="0.5"/>
<circle cx="594.2" cy="167.4" r="2.75" fill="#000" stroke="#111" stroke-width="0.5"/>
<circle cx="584.9" cy="175.5" r="2.75" fill="#000" stroke="#111" stroke-width="0.5"/>
<circle cx="588.4" cy="178.0" r="2.75" fill="#000" stroke="#111" stroke-width="0.5"/>
<circle cx="595.4" cy="179.2" r="2.75" fill="#000" stroke="#111" stroke-width="0.5"/>
<circle cx="595.1" cy="181.7" r="2.75" fill="#000" stroke="#111" stroke-width="0.5"/>
<circle cx="602.3" cy="185.6" r="2.75" fill="#000" stroke="#111" stroke-width="0.5"/>
<circle cx="573.4" cy="191.3" r="2.75" fill="#000" stroke="#111" stroke-width="0.5"/>
<circle cx="594.2" cy="193.9" r="2.75" fill="#000" stroke="#111" stroke-width="0.5"/>
<circle cx="597.9" cy="161.7" r="2.75" fill="#000" stroke="#111" stroke-width="0.5"/>
<circle cx="582.4" cy="167.3" r="2.75" fill="#000" stroke="#111" stroke-width="0.5"/>
<circle cx="594.2" cy="167.0" r="2.75" fill="#000" stroke="#111" stroke-width="0.5"/>
<circle cx="598.7" cy="161.3" r="2.75" fill="#000" stroke="#111" stroke-width="0.5"/>
<circle cx="608.7" cy="164.5" r="2.75" fill="#000" stroke="#111" stroke-width="0.5"/>
<circle cx="608.9" cy="165.6" r="2.75" fill="#000" stroke="#111" stroke-width="0.5"/>
<circle cx="614.7" cy="168.0" r="2.75" fill="#000" stroke="#111" stroke-width="0.5"/>
<circle cx="613.7" cy="171.8" r="2.75" fill="#000" stroke="#111" stroke-width="0.5"/>
<circle cx="606.8" cy="174.6" r="2.75" fill="#000" stroke="#111" stroke-width="0.5"/>
<circle cx="612.4" cy="177.4" r="2.75" fill="#000" stroke="#111" stroke-width="0.5"/>
<circle cx="626.3" cy="172.1" r="2.75" fill="#000" stroke="#111" stroke-width="0.5"/>
<circle cx="603.7" cy="202.4" r="2.75" fill="#000" stroke="#111" stroke-width="0.5"/>
<circle cx="600.6" cy="202.4" r="2.75" fill="#000" stroke="#111" stroke-width="0.5"/>
<circle cx="601.2" cy="214.8" r="2.75" fill="#000" stroke="#111" stroke-width="0.5"/>
<circle cx="589.2" cy="202.4" r="2.75" fill="#000" stroke="#111" stroke-width="0.5"/>
<circle cx="591.7" cy="202.1" r="2.75" fill="#000" stroke="#111" stroke-width="0.5"/>
<circle cx="599.2" cy="203.0" r="2.75" fill="#000" stroke="#111" stroke-width="0.5"/>
<circle cx="582.1" cy="206.4" r="2.75" fill="#000" stroke="#111" stroke-width="0.5"/>
<circle cx="569.3" cy="204.6" r="2.75" fill="#000" stroke="#111" stroke-width="0.5"/>
<circle cx="566.5" cy="208.4" r="2.75" fill="#000" stroke="#111" stroke-width="0.5"/>
<circle cx="571.0" cy="210.8" r="2.75" fill="#000" stroke="#111" stroke-width="0.5"/>
<circle cx="573.1" cy="213.8" r="2.75" fill="#000" stroke="#111" stroke-width="0.5"/>
<circle cx="575.6" cy="215.4" r="2.75" fill="#000" stroke="#111" stroke-width="0.5"/>
<circle cx="574.9" cy="219.8" r="2.75" fill="#000" stroke="#111" stroke-width="0.5"/>
<circle cx="577.7" cy="220.8" r="2.75" fill="#000" stroke="#111" stroke-width="0.5"/>
<circle cx="569.3" cy="223.5" r="2.75" fill="#000" stroke="#111" stroke-width="0.5"/>
<circle cx="555.5" cy="183.4" r="2.75" fill="#000" stroke="#111" stroke-width="0.5"/>
<circle cx="556.3" cy="194.7" r="2.75" fill="#000" stroke="#111" stroke-width="0.5"/>
<circle cx="562.0" cy="201.1" r="2.75" fill="#000" stroke="#111" stroke-width="0.5"/>
<circle cx="555.4" cy="210.6" r="2.75" fill="#000" stroke="#111" stroke-width="0.5"/>
<circle cx="566.6" cy="208.6" r="2.75" fill="#000" stroke="#111" stroke-width="0.5"/>
<circle cx="568.5" cy="204.2" r="2.75" fill="#000" stroke="#111" stroke-width="0.5"/>
<circle cx="566.7" cy="210.6" r="2.75" fill="#000" stroke="#111" stroke-width="0.5"/>
<circle cx="571.1" cy="211.9" r="2.75" fill="#000" stroke="#111" stroke-width="0.5"/>
<circle cx="572.9" cy="214.3" r="2.75" fill="#000" stroke="#111" stroke-width="0.5"/>
<circle cx="569.2" cy="224.3" r="2.75" fill="#000" stroke="#111" stroke-width="0.5"/>
<circle cx="573.5" cy="228.6" r="2.75" fill="#000" stroke="#111" stroke-width="0.5"/>
<circle cx="568.6" cy="232.6" r="2.75" fill="#000" stroke="#111" stroke-width="0.5"/>
<circle cx="560.1" cy="239.2" r="2.75" fill="#000" stroke="#111" stroke-width="0.5"/>
<circle cx="617.0" cy="181.7" r="2.75" fill="#000" stroke="#111" stroke-width="0.5"/>
<circle cx="618.4" cy="184.1" r="2.75" fill="#000" stroke="#111" stroke-width="0.5"/>
<circle cx="620.7" cy="186.9" r="2.75" fill="#000" stroke="#111" stroke-width="0.5"/>
<circle cx="624.0" cy="185.0" r="2.75" fill="#000" stroke="#111" stroke-width="0.5"/>
<circle cx="627.2" cy="185.0" r="2.75" fill="#000" stroke="#111" stroke-width="0.5"/>
<circle cx="630.0" cy="187.3" r="2.75" fill="#000" stroke="#111" stroke-width="0.5"/>
<circle cx="625.8" cy="190.1" r="2.75" fill="#000" stroke="#111" stroke-width="0.5"/>
<circle cx="629.1" cy="192.9" r="2.75" fill="#000" stroke="#111" stroke-width="0.5"/>
<circle cx="628.6" cy="195.7" r="2.75" fill="#000" stroke="#111" stroke-width="0.5"/>
<circle cx="627.7" cy="199.0" r="2.75" fill="#000" stroke="#111" stroke-width="0.5"/>
<circle cx="611.9" cy="192.0" r="2.75" fill="#000" stroke="#111" stroke-width="0.5"/>
<circle cx="617.0" cy="193.8" r="2.75" fill="#000" stroke="#111" stroke-width="0.5"/>
<circle cx="611.9" cy="197.6" r="2.75" fill="#000" stroke="#111" stroke-width="0.5"/>
<circle cx="615.1" cy="202.0" r="2.75" fill="#000" stroke="#111" stroke-width="0.5"/>
<circle cx="612.3" cy="178.0" r="2.75" fill="#000" stroke="#111" stroke-width="0.5"/>
<ellipse cx="581.3" cy="100.56" rx="52.2" ry="35.8" transform="rotate(45.5 581.3 100.56)" fill="rgb(245,25,35)" fill-opacity="0.18"/>
<ellipse cx="586.58" cy="202.39" rx="57.7" ry="36.5" transform="rotate(-29.94 586.58 202.39)" fill="rgb(245,25,35)" fill-opacity="0.18"/>
<line x1="385.4" y1="5" x2="385.4" y2="300" stroke="#a4a4a4" stroke-width="1.3"/>
<line x1="385.5" y1="299.6" x2="679.8" y2="299.6" stroke="#a4a4a4" stroke-width="1.3"/>
<path d="M383.7,6.5 L385.4,0 L387.1,6.5 Z" fill="#808080"/>
<path d="M678.3,297.9 L684.8,299.6 L678.3,301.3 Z" fill="#808080"/>
<line x1="385.45" y1="300" x2="385.45" y2="302" stroke="#a0a0a0" stroke-width="1"/>
<line x1="410.38" y1="300" x2="410.38" y2="302" stroke="#b0b0b0" stroke-width="1"/>
<line x1="435.30" y1="300" x2="435.30" y2="302" stroke="#a0a0a0" stroke-width="1"/>
<line x1="460.23" y1="300" x2="460.23" y2="302" stroke="#b0b0b0" stroke-width="1"/>
<line x1="485.15" y1="300" x2="485.15" y2="302" stroke="#a0a0a0" stroke-width="1"/>
<line x1="510.07" y1="300" x2="510.07" y2="302" stroke="#b0b0b0" stroke-width="1"/>
<line x1="535.00" y1="300" x2="535.00" y2="302" stroke="#a0a0a0" stroke-width="1"/>
<line x1="559.92" y1="300" x2="559.92" y2="302" stroke="#b0b0b0" stroke-width="1"/>
<line x1="584.85" y1="300" x2="584.85" y2="302" stroke="#a0a0a0" stroke-width="1"/>
<line x1="609.77" y1="300" x2="609.77" y2="302" stroke="#b0b0b0" stroke-width="1"/>
<line x1="634.70" y1="300" x2="634.70" y2="302" stroke="#a0a0a0" stroke-width="1"/>
<line x1="659.62" y1="300" x2="659.62" y2="302" stroke="#b0b0b0" stroke-width="1"/>
<line x1="383.2" y1="299.35" x2="385.5" y2="299.35" stroke="#a0a0a0" stroke-width="1"/>
<line x1="383.2" y1="274.43" x2="385.5" y2="274.43" stroke="#b0b0b0" stroke-width="1"/>
<line x1="383.2" y1="249.50" x2="385.5" y2="249.50" stroke="#a0a0a0" stroke-width="1"/>
<line x1="383.2" y1="224.58" x2="385.5" y2="224.58" stroke="#b0b0b0" stroke-width="1"/>
<line x1="383.2" y1="199.65" x2="385.5" y2="199.65" stroke="#a0a0a0" stroke-width="1"/>
<line x1="383.2" y1="174.73" x2="385.5" y2="174.73" stroke="#b0b0b0" stroke-width="1"/>
<line x1="383.2" y1="149.80" x2="385.5" y2="149.80" stroke="#a0a0a0" stroke-width="1"/>
<line x1="383.2" y1="124.88" x2="385.5" y2="124.88" stroke="#b0b0b0" stroke-width="1"/>
<line x1="383.2" y1="99.95" x2="385.5" y2="99.95" stroke="#a0a0a0" stroke-width="1"/>
<line x1="383.2" y1="75.03" x2="385.5" y2="75.03" stroke="#b0b0b0" stroke-width="1"/>
<line x1="383.2" y1="50.10" x2="385.5" y2="50.10" stroke="#a0a0a0" stroke-width="1"/>
<line x1="383.2" y1="25.18" x2="385.5" y2="25.18" stroke="#b0b0b0" stroke-width="1"/>
<text x="383.0" y="53.50" text-anchor="end" class="tk">1</text>
<text x="383.0" y="103.35" text-anchor="end" class="tk">0.5</text>
<text x="383.0" y="153.20" text-anchor="end" class="tk">0</text>
<text x="383.0" y="203.05" text-anchor="end" class="tk">-0.5</text>
<text x="383.0" y="252.90" text-anchor="end" class="tk">-1</text>
<text x="383.0" y="302.75" text-anchor="end" class="tk">-1.5</text>
<text x="385.45" y="308.8" text-anchor="middle" class="tk">-1.5</text>
<text x="435.30" y="308.8" text-anchor="middle" class="tk">-1</text>
<text x="485.15" y="308.8" text-anchor="middle" class="tk">-0.5</text>
<text x="535.00" y="308.8" text-anchor="middle" class="tk">0</text>
<text x="584.85" y="308.8" text-anchor="middle" class="tk">0.5</text>
<text x="634.70" y="308.8" text-anchor="middle" class="tk">1</text>
<text x="533.5" y="319.5" text-anchor="middle" class="ti">p(corr)[1], t(corr)[1]</text>
<text transform="translate(358.3,147.6) rotate(-90)" text-anchor="middle" class="ti">p(corr)[2], t(corr)[2]</text>
<text x="393.5" y="294.6" class="r2">R2x[1] = 0.404 R2x[2] = 0.166</text>
<text transform="translate(400.4,28.5) scale(1.0,1)" class="lb">b</text>
<rect x="642.2" y="7.4" width="9.8" height="9.7" fill="#000"/><text x="654.1" y="14.9" class="lg">X</text><rect x="642.3" y="24.2" width="9.8" height="9.7" fill="#00ff00"/><text x="654.6" y="31.7" class="lg">Bligh</text><rect x="643.0" y="40.1" width="9.8" height="9.7" fill="#0000ff"/><text x="655.0" y="47.6" class="lg">Folch</text><rect x="643.0" y="58.0" width="9.8" height="9.7" fill="#b00000"/><text x="655.3" y="65.5" class="lg">MTBE</text><rect x="643.5" y="74.9" width="9.8" height="9.7" fill="#f0f000"/><text x="655.7" y="82.4" class="lg">Pooled</text>
</svg>
</body></html>
